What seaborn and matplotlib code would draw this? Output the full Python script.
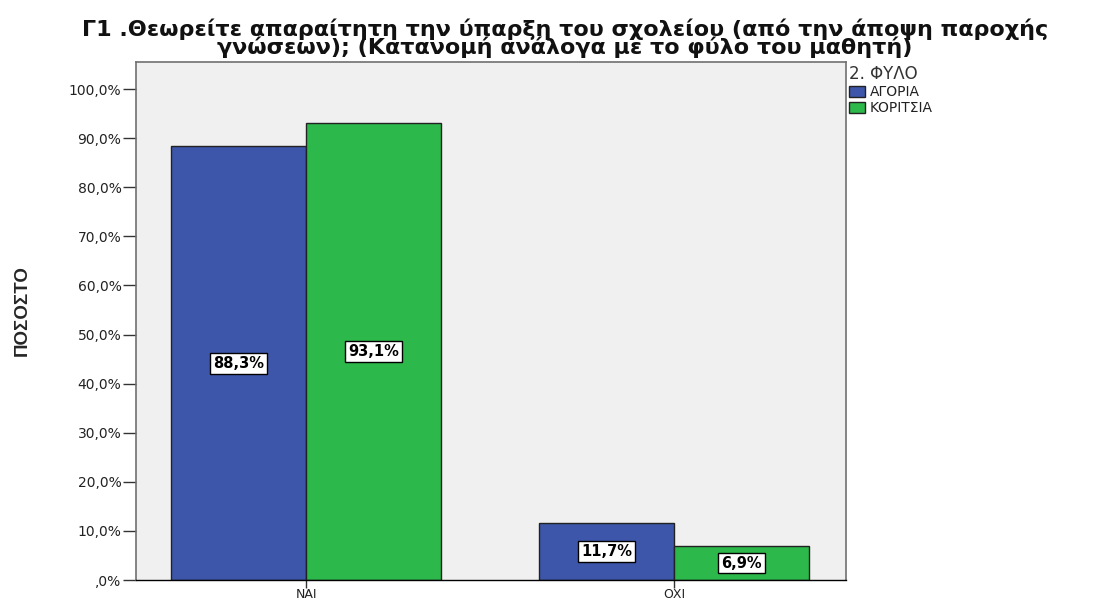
import matplotlib
matplotlib.use("Agg")
import matplotlib.pyplot as plt
import seaborn as sns
import pandas as pd
from matplotlib.ticker import FuncFormatter

categories = ["ΝΑΙ", "ΟΧΙ"]
groups = ["ΑΓΟΡΙΑ", "ΚΟΡΙΤΣΙΑ"]
boys = [88.3, 11.7]
girls = [93.1, 6.9]

df = pd.DataFrame({
    "answer": categories * 2,
    "gender": [groups[0]] * 2 + [groups[1]] * 2,
    "pct": boys + girls,
})

sns.set_style("white")
plt.rcParams['font.family'] = ['DejaVu Sans']

W, H = 1099, 601
fig = plt.figure(figsize=(W / 100, H / 100), dpi=100)
ax = fig.add_axes([136 / W, 1 - 580 / H, 710 / W, 518 / H])
ax.set_facecolor("#f0f0f0")

palette = {"ΑΓΟΡΙΑ": "#3d56aa", "ΚΟΡΙΤΣΙΑ": "#2db84b"}
sns.barplot(data=df, x="answer", y="pct", hue="gender", palette=palette,
            width=0.734, edgecolor="#222222", linewidth=1, saturation=1, ax=ax)

# value labels in white boxes at mid-height of each bar
for cont in ax.containers:
    for bar in cont:
        h = bar.get_height()
        ax.text(bar.get_x() + bar.get_width() / 2, h / 2,
                f"{h:.1f}%".replace(".", ","), ha="center", va="center",
                fontsize=10.5, fontweight="bold", color="black",
                bbox=dict(boxstyle="square,pad=0.2", fc="white", ec="black", lw=1))

ax.set_xlim(-0.462, 1.467)
ax.set_ylim(0, 105.5)
ax.set_yticks(range(0, 101, 10))
ax.yaxis.set_major_formatter(FuncFormatter(
    lambda v, p: ",0%" if v == 0 else f"{v:.1f}%".replace(".", ",")))
ax.tick_params(axis="y", direction="out", length=9.5, width=1, color="#333333",
               labelsize=10, labelcolor="#222222", left=True, pad=1)
ax.tick_params(axis="x", direction="out", length=6, width=1, color="#333333",
               labelsize=9, labelcolor="#222222", bottom=True, pad=0)

for s in ["left", "top", "right"]:
    ax.spines[s].set_color("#707070")
    ax.spines[s].set_linewidth(1.2)
ax.spines["bottom"].set_color("black")
ax.spines["bottom"].set_linewidth(1)

ax.set_xlabel("")
ax.set_ylabel("")
fig.text(22 / W, 1 - 311 / H, "ΠΟΣΟΣΤΟ", rotation=90, ha="center", va="center",
         fontsize=13.5, fontweight="bold", family="Liberation Sans")

fig.text(565 / W, 1 - 38 / H,
         "Γ1 .Θεωρείτε απαραίτητη την ύπαρξη του σχολείου (από την άποψη παροχής\n"
         "γνώσεων); (Κατανομή ανάλογα με το φύλο του μαθητή)",
         ha="center", va="center", fontsize=16, fontweight="bold",
         linespacing=0.82, color="#111111")

leg = ax.legend(title="2. ΦΥΛΟ", loc="upper left",
                bbox_to_anchor=(846 / W, 1 - 62 / H), bbox_transform=fig.transFigure,
                frameon=False, fontsize=10, title_fontsize=12,
                handlelength=1.2, handleheight=0.85, handletextpad=0.3,
                borderaxespad=0.0, borderpad=0.2, labelspacing=0.15)
leg._legend_box.align = "left"
leg.get_title().set_color("#333333")
for t in leg.get_texts():
    t.set_color("#222222")
for h in leg.legend_handles:
    h.set_edgecolor("#222222")

fig.savefig("out.png", dpi=100)
